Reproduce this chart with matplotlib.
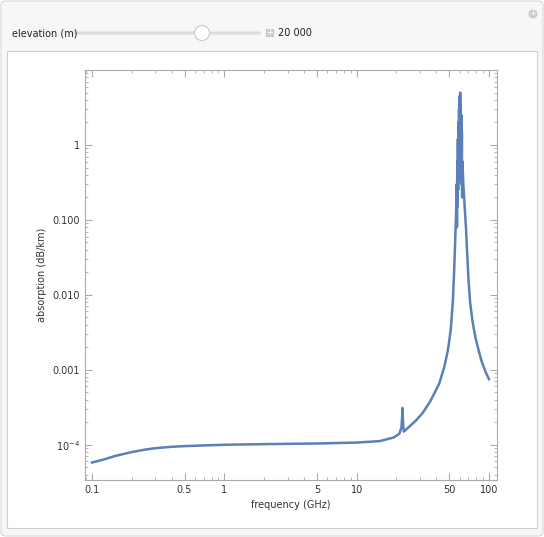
import matplotlib
matplotlib.use("Agg")
import matplotlib.pyplot as plt
from matplotlib.patches import FancyBboxPatch, Rectangle, Circle
from matplotlib.ticker import FixedLocator, NullFormatter

freq = [0.1, 0.12, 0.15, 0.2, 0.25, 0.3, 0.4, 0.5, 0.7, 1, 2, 5, 10, 15, 19, 21, 21.8, 22.0, 22.2, 22.4, 22.7, 23.2, 25, 28, 31.5,
        36, 42, 46, 49, 51.5, 53.4, 54.5, 55.5, 56.2, 56.6, 57.0, 57.3, 57.6, 57.9, 58.2, 58.5, 58.8, 59.1, 59.4, 59.7,
        60.0, 60.3, 60.6, 60.9, 61.2, 61.5, 61.8, 62.1, 62.4, 62.7, 63.0, 64, 65.5, 67, 68.5, 70, 72, 75, 79, 83, 88, 94, 100]
absorb = [5.8e-5, 6.3e-5, 7.1e-5, 8.0e-5, 8.6e-5, 9.0e-5, 9.4e-5, 9.6e-5, 9.8e-5, 1.0e-4, 1.02e-4, 1.04e-4, 1.07e-4, 1.12e-4, 1.25e-4,
          1.4e-4, 1.7e-4, 2.2e-4, 3.1e-4, 2.0e-4, 1.5e-4, 1.55e-4, 1.75e-4, 2.1e-4, 2.65e-4,
          3.8e-4, 6.5e-4, 1.1e-3, 1.85e-3, 3.5e-3, 8.6e-3, 0.02, 0.05, 0.1, 0.15, 0.3, 0.08, 0.6, 0.15, 1.2, 0.25,
          2.0, 0.35, 3.0, 0.5, 4.5, 0.6, 5.0, 0.5, 3.5, 0.4, 2.5, 0.3, 1.5, 0.2, 0.6, 0.3, 0.15, 0.08, 0.035,
          0.016, 0.008, 4.5e-3, 2.7e-3, 1.9e-3, 1.3e-3, 9.5e-4, 7.5e-4]
xticks = [0.1, 0.5, 1, 5, 10, 50, 100]
xlabels = ["0.1", "0.5", "1", "5", "10", "50", "100"]
yticks = [1e-4, 1e-3, 1e-2, 1e-1, 1]
ylabels = [r"$10^{-4}$", "0.001", "0.010", "0.100", "1"]

W, H = 544, 537
fig = plt.figure(figsize=(W/100, H/100), dpi=100)
fig.patch.set_facecolor("white")
bg = fig.add_axes([0, 0, 1, 1]); bg.set_xlim(0, W); bg.set_ylim(H, 0); bg.axis("off")
bg.add_patch(FancyBboxPatch((1, 1), W-2, H-2, boxstyle="round,pad=0,rounding_size=5", fc="#f7f7f7", ec="#d8d8d8", lw=0.8))
bg.add_patch(Rectangle((7, 51), 530, 477, fc="white", ec="#cfcfcf", lw=0.8))
bg.text(12, 33, "elevation (m)", fontsize=7, va="center", color="#222222")
bg.add_patch(FancyBboxPatch((71, 31.5), 190, 3, boxstyle="round,pad=0,rounding_size=1.5", fc="#dcdcdc", ec="none"))
bg.add_patch(Circle((202, 33), 7.5, fc="white", ec="#c8c8c8", lw=0.8))
bg.add_patch(Rectangle((266, 29), 7, 7, fc="#cfcfcf", ec="#bbbbbb", lw=0.5))
bg.text(269.5, 32.7, "+", fontsize=6, ha="center", va="center", color="white")
bg.text(278, 33, "20 000", fontsize=7, va="center", color="#222222")
bg.add_patch(Circle((533, 14), 4.5, fc="#cccccc", ec="none"))
bg.text(533, 13.7, "+", fontsize=6, ha="center", va="center", color="white")

ax = fig.add_axes([85/W, 1-480/H, 412/W, 410/H])
ax.plot(freq, absorb, color="#5a7fb9", lw=1.8)
ax.set_xscale("log"); ax.set_yscale("log")
ax.set_xlim(0.0884, 115); ax.set_ylim(10**-4.47, 10)
ax.xaxis.set_major_locator(FixedLocator(xticks)); ax.set_xticklabels(xlabels)
ax.yaxis.set_major_locator(FixedLocator(yticks)); ax.set_yticklabels(ylabels)
ax.xaxis.set_minor_formatter(NullFormatter()); ax.yaxis.set_minor_formatter(NullFormatter())
for s in ax.spines.values():
    s.set_color("#aaaaaa"); s.set_linewidth(0.8)
ax.tick_params(which="both", direction="in", top=True, right=True, colors="#aaaaaa", labelcolor="#333333", labelsize=7)
ax.tick_params(which="major", length=5); ax.tick_params(which="minor", length=2.5)
ax.set_xlabel("frequency (GHz)", fontsize=7, color="#333333")
ax.set_ylabel("absorption (dB/km)", fontsize=7, color="#333333")
fig.savefig("out.png", dpi=100)
